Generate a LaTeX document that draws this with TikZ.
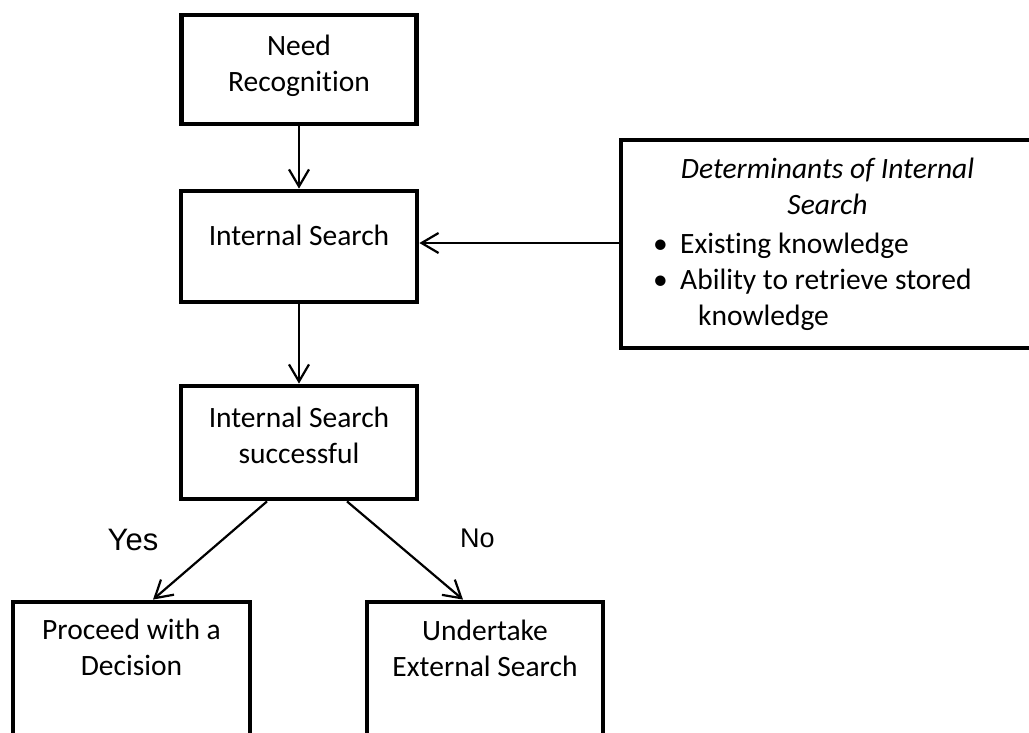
\documentclass[tikz,border=0pt]{standalone}
\usepackage{fontspec}
\setmainfont{Carlito}[Ligatures={NoCommon,NoContextual},RawFeature={-calt}]
\newfontfamily\labelfont{Liberation Sans}
\usetikzlibrary{arrows.meta}
\begin{document}
\begin{tikzpicture}[x=1pt,y=-1pt,
  box/.style={draw=black, line width=4.8pt, fill=white, rectangle, inner sep=0pt},
  boxtext/.style={align=center, inner sep=0pt, font=\fontsize{29.5pt}{36pt}\selectfont},
  flow/.style={draw=black, line width=2.2pt, -{Straight Barb[length=17pt,width=20pt]}},
  answer/.style={inner sep=0pt}
]
\useasboundingbox (0,0) rectangle (1029,732);
\clip (0,0) rectangle (1029,732);
\fill[white] (0,0) rectangle (1029,732);

% main column of the search process
\node[box, minimum width=235pt, minimum height=109pt] (need) at (299,69.5) {};
\node[boxtext] (needtext) at (299,65.5) {Need\\Recognition};

\node[box, minimum width=236pt, minimum height=111pt] (internal) at (299,246.5) {};
\node[boxtext] (internaltext) at (299,235) {Internal Search};

\node[box, minimum width=236pt, minimum height=113pt] (success) at (299,442.5) {};
\node[boxtext] (successtext) at (299,435) {Internal Search\\successful};

% outcomes, running off the lower edge
\node[box, minimum width=237pt, minimum height=208pt] (proceed) at (131.5,706) {};
\node[boxtext] (proceedtext) at (131.5,647.6) {Proceed with a\\Decision};

\node[box, minimum width=236pt, minimum height=208pt] (external) at (485,706) {};
\node[boxtext] (externaltext) at (485,648.6) {Undertake\\External Search};

% determinants, running off the right edge
\node[box, minimum width=439pt, minimum height=208pt] (det) at (840.5,244) {};
\node[boxtext, font=\fontsize{29.5pt}{36pt}\selectfont\itshape] (dettitle) at (827.5,186.6) {Determinants of Internal\\Search};
\node[boxtext, align=left, anchor=west] (detlist) at (653,281.5)
  {\makebox[27pt][l]{\textbullet}Existing knowledge\\
   \makebox[27pt][l]{\textbullet}Ability to retrieve stored\\
   \hspace*{45pt}knowledge};

% connectors
\coordinate (feed) at ([yshift=3.5pt]internal.east);
\draw[flow] (need.south) -- (internal.north);
\draw[flow] (internal.south) -- (success.north);
\draw[flow] (det.west |- feed) -- (feed);
\draw[flow] ([xshift=-32pt]success.south) -- ([xshift=21.5pt]proceed.north);
\draw[flow] ([xshift=48pt]success.south) -- ([xshift=-22pt]external.north);

% branch labels
\node[answer, font=\labelfont\fontsize{31pt}{36pt}\selectfont] (yes) at (133,539.5) {Yes};
\node[answer, font=\labelfont\fontsize{27pt}{32pt}\selectfont] (no) at (477.5,538) {No};
\end{tikzpicture}
\end{document}
